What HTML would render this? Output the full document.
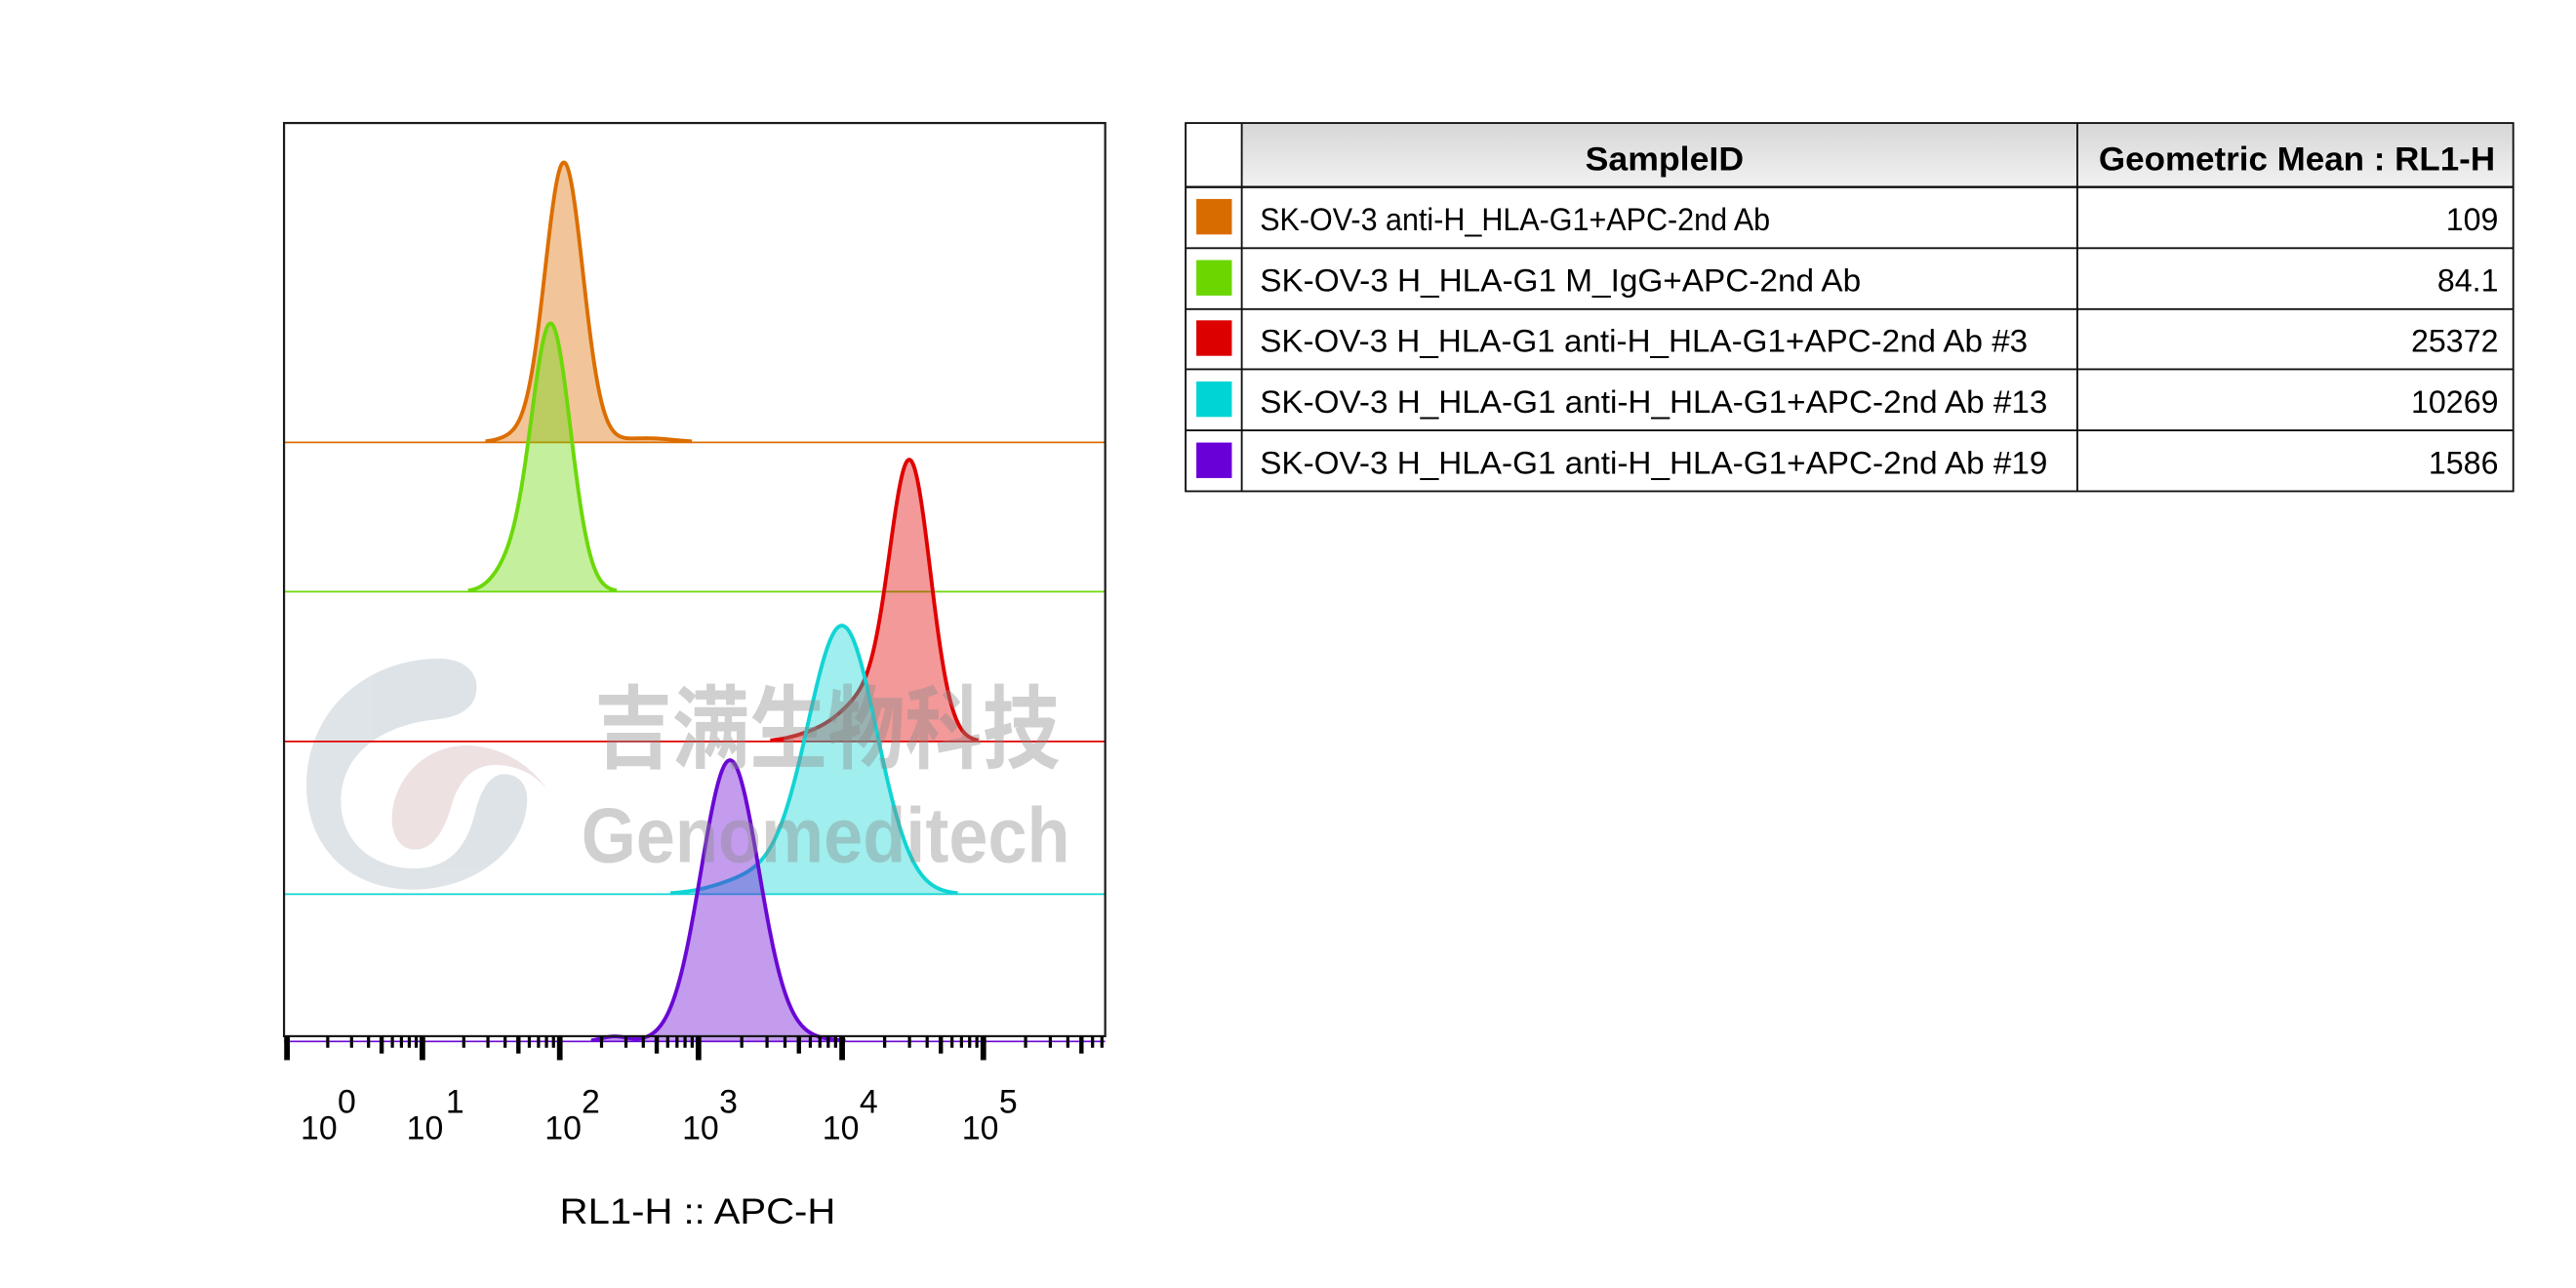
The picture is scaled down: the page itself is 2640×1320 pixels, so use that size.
<!DOCTYPE html>
<html><head><meta charset="utf-8">
<style>
html,body{margin:0;padding:0;background:#fff;width:2640px;height:1320px;overflow:hidden}
svg{display:block}
text{font-family:"Liberation Sans","Noto Sans CJK SC",sans-serif}
</style></head>
<body>
<svg id="s" width="2640" height="1320" viewBox="0 0 1560 780" xmlns="http://www.w3.org/2000/svg">
<rect width="1560" height="780" fill="#fff"/>
<g transform="translate(171.4,390) scale(0.19697)" opacity="0.85">
<path d="M480 45 C560 45 600 90 595 140 C590 200 540 225 470 232 C330 245 180 320 178 480 C176 610 280 690 400 690 C500 690 560 640 590 520 C610 440 640 400 680 400 C730 400 755 440 750 490 C740 640 580 755 400 755 C200 755 70 620 72 430 C75 200 260 45 480 45 Z" fill="#d8dfe3"/>
<path d="M820 460 C760 360 650 310 560 312 C430 315 340 420 335 530 C332 600 370 635 410 632 C470 628 500 560 520 490 C545 410 590 370 660 372 C730 375 790 410 820 460 Z" fill="#ecdcdc"/>
</g>
<g id="hist"></g>
<g id="wm" fill="#8a8a8a" fill-opacity="0.4" font-weight="bold">
<text x="360" y="461" font-size="55" textLength="282" lengthAdjust="spacingAndGlyphs">吉满生物科技</text>
<text x="352" y="522" font-size="47" textLength="296" lengthAdjust="spacingAndGlyphs">Genomeditech</text>
</g>
<rect x="172" y="74.5" width="497.3" height="553" fill="none" stroke="#1a1a1a" stroke-width="1.3"/>
<g id="ticks" fill="#000"></g>
<g font-size="20" fill="#000">
<text x="182" y="690">10</text><text x="204.5" y="674">0</text>
<text x="246.2" y="690">10</text><text x="270" y="674">1</text>
<text x="329.9" y="690">10</text><text x="352.2" y="674">2</text>
<text x="413.1" y="690">10</text><text x="435.6" y="674">3</text>
<text x="498" y="690">10</text><text x="520.5" y="674">4</text>
<text x="582.5" y="690">10</text><text x="605" y="674">5</text>
</g>
<text x="339" y="741" font-size="22" textLength="167" lengthAdjust="spacingAndGlyphs">RL1-H :: APC-H</text>
<defs><linearGradient id="hg" x1="0" y1="0" x2="0" y2="1"><stop offset="0" stop-color="#d6d6d6"/><stop offset="1" stop-color="#f2f2f2"/></linearGradient></defs>
<rect x="752" y="74.5" width="770" height="38.8" fill="url(#hg)"/>
<g stroke="#111" stroke-width="1.1" fill="none">
<rect x="718" y="74.5" width="804" height="223"/>
<line x1="752" y1="74.5" x2="752" y2="297.5"/>
<line x1="1258" y1="74.5" x2="1258" y2="297.5"/>
<line x1="718" y1="113.3" x2="1522" y2="113.3" stroke-width="1.4"/>
<line x1="718" y1="150.3" x2="1522" y2="150.3"/>
<line x1="718" y1="187.2" x2="1522" y2="187.2"/>
<line x1="718" y1="223.6" x2="1522" y2="223.6"/>
<line x1="718" y1="260.6" x2="1522" y2="260.6"/>
</g>
<g font-weight="bold" font-size="20" fill="#000">
<text x="960" y="103" textLength="96" lengthAdjust="spacingAndGlyphs">SampleID</text>
<text x="1271" y="103" textLength="240" lengthAdjust="spacingAndGlyphs">Geometric Mean : RL1-H</text>
</g>
<rect x="724.5" y="120.5" width="21.5" height="21.5" fill="#d96c00"/>
<rect x="724.5" y="157.5" width="21.5" height="21.5" fill="#6cd600"/>
<rect x="724.5" y="194" width="21.5" height="21.5" fill="#dc0000"/>
<rect x="724.5" y="231" width="21.5" height="21.5" fill="#00d4d4"/>
<rect x="724.5" y="268" width="21.5" height="21.5" fill="#6a00d8"/>
<g font-size="19" fill="#000">
<text x="763" y="139.5" textLength="309" lengthAdjust="spacingAndGlyphs">SK-OV-3 anti-H_HLA-G1+APC-2nd Ab</text>
<text x="763" y="176.5" textLength="364" lengthAdjust="spacingAndGlyphs">SK-OV-3 H_HLA-G1 M_IgG+APC-2nd Ab</text>
<text x="763" y="213" textLength="465" lengthAdjust="spacingAndGlyphs">SK-OV-3 H_HLA-G1 anti-H_HLA-G1+APC-2nd Ab #3</text>
<text x="763" y="250" textLength="477" lengthAdjust="spacingAndGlyphs">SK-OV-3 H_HLA-G1 anti-H_HLA-G1+APC-2nd Ab #13</text>
<text x="763" y="287" textLength="477" lengthAdjust="spacingAndGlyphs">SK-OV-3 H_HLA-G1 anti-H_HLA-G1+APC-2nd Ab #19</text>
</g>
<g font-size="19" fill="#000" text-anchor="end">
<text x="1513" y="139.5">109</text>
<text x="1513" y="176.5">84.1</text>
<text x="1513" y="213">25372</text>
<text x="1513" y="250">10269</text>
<text x="1513" y="287">1586</text>
</g>
</svg>
<script>
(function(){
var NS="http://www.w3.org/2000/svg";
var hist=document.getElementById("hist");
function g(x,A,m,s){return A*Math.exp(-(x-m)*(x-m)/(2*s*s));}
var H=[
 {b:267.9,c:"#dc6e00",f:[[169.5,341.5,11.5],[2.5,392,16],[3,312,10]]},
 {b:358.3,c:"#6cd80a",f:[[162,333.5,12],[12,308,10]]},
 {b:449,c:"#e00000",f:[[168,551,12.5],[22,522,14],[5,495,14]]},
 {b:541.5,c:"#12d4d4",f:[[162,510,21],[10,458,22]]},
 {b:630.7,c:"#6a08d4",f:[[170,442,17.5],[3,372,8],[2,480,20]]}
];
H.forEach(function(h){
  var pts=[];
  for(var x=172.5;x<=669;x+=0.5){
    var y=0;h.f.forEach(function(p){y+=g(x,p[0],p[1],p[2]);});
    pts.push([x,h.b-y]);
  }
  var d="M"+pts.map(function(p){return p[0].toFixed(1)+","+p[1].toFixed(2);}).join("L")+"L669,"+h.b+"L172.5,"+h.b+"Z";
  var pa=document.createElementNS(NS,"path");
  pa.setAttribute("d",d);pa.setAttribute("fill",h.c);pa.setAttribute("fill-opacity","0.4");
  hist.appendChild(pa);
  var bl=document.createElementNS(NS,"line");
  bl.setAttribute("x1",172);bl.setAttribute("x2",669.3);bl.setAttribute("y1",h.b);bl.setAttribute("y2",h.b);
  bl.setAttribute("stroke",h.c);bl.setAttribute("stroke-width","1");
  hist.appendChild(bl);
  var sp=pts.filter(function(p){return h.b-p[1]>0.6;});
  if(sp.length){
    var pl=document.createElementNS(NS,"polyline");
    pl.setAttribute("points",sp.map(function(p){return p[0].toFixed(1)+","+p[1].toFixed(2);}).join(" "));
    pl.setAttribute("fill","none");pl.setAttribute("stroke",h.c);pl.setAttribute("stroke-width","2.3");pl.setAttribute("stroke-linejoin","round");
    hist.appendChild(pl);
  }
});
var maj=[173.8,255.8,339,423,510,595.5];
var tk=document.getElementById("ticks");
function rect(x,w,h){var r=document.createElementNS(NS,"rect");r.setAttribute("x",(x-w/2).toFixed(2));r.setAttribute("y",627.5);r.setAttribute("width",w);r.setAttribute("height",h);tk.appendChild(r);}
for(var d=0;d<6;d++){
  rect(maj[d],3.4,14.5);
  var w=(d<5?maj[d+1]-maj[d]:85);
  for(var k=2;k<=9;k++){
    var x=maj[d]+Math.log10(k)*w;
    if(x>669)break;
    if(k==5) rect(x,2.6,10.5); else rect(x,1.9,7);
  }
}
})();
</script>
</body></html>
